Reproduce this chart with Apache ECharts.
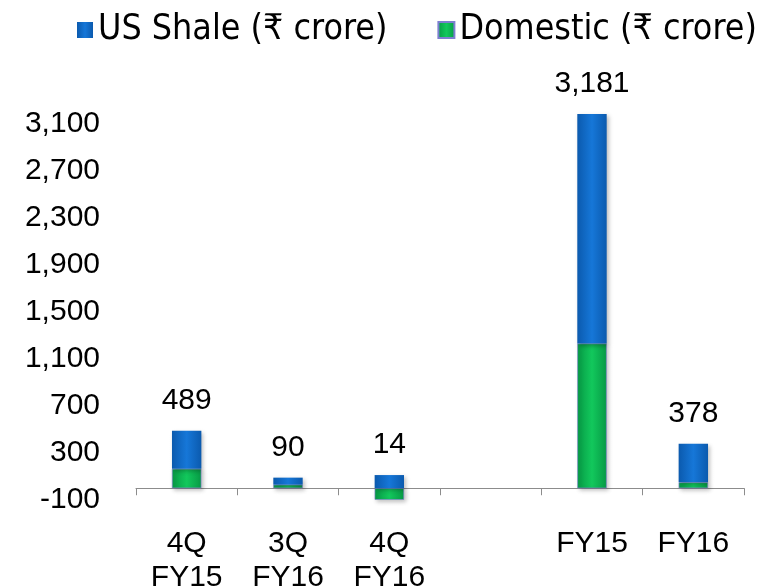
<!DOCTYPE html>
<html>
<head>
<meta charset="utf-8">
<script src="https://cdn.jsdelivr.net/npm/echarts@6/dist/echarts.min.js"></script>
<style>html,body{margin:0;padding:0;background:#fff;}#c{width:768px;height:588px;}</style>
</head>
<body>
<div id="c"></div>
<script>
var categories = ['4Q\nFY15', '3Q\nFY16', '4Q\nFY16', '', 'FY15', 'FY16'];
var domestic = [165, 30, -98, null, 1230, 50];
var usShale = [324, 60, 112, null, 1951, 328];
var totals = [489, 90, 14, null, 3181, 378];
var seriesNames = ['US Shale (₹ crore)', 'Domestic (₹ crore)'];

var chart = echarts.init(document.getElementById('c'), null, {renderer: 'canvas'});
var numFont = '"Liberation Sans", Arial, sans-serif';
function hgrad(a, b) {
  return new echarts.graphic.LinearGradient(0, 0, 1, 0, [
    {offset: 0, color: a}, {offset: 0.5, color: b}, {offset: 1, color: a}
  ]);
}
var shadow = {shadowBlur: 4, shadowColor: 'rgba(0,0,0,0.25)', shadowOffsetX: 2, shadowOffsetY: 2};
chart.setOption({
  animation: false,
  backgroundColor: '#ffffff',
  legend: {
    left: 72, top: 7,
    itemWidth: 16, itemHeight: 16, itemGap: 50,
    icon: 'rect',
    data: [seriesNames[0], seriesNames[1]],
    textStyle: {fontFamily: '"DejaVu Sans Condensed", "DejaVu Sans", sans-serif', fontSize: 35.5, color: '#000'}
  },
  grid: {left: 136, right: 24, top: 100, bottom: 88, containLabel: false, outerBoundsMode: 'none'},
  xAxis: {
    type: 'category',
    data: categories,
    axisLine: {onZero: true, lineStyle: {color: '#8c8c8c', width: 1}},
    axisTick: {show: true, length: 7, lineStyle: {color: '#8c8c8c'}},
    axisLabel: {margin: 27, fontFamily: numFont, fontSize: 30, color: '#000', lineHeight: 34, interval: 0}
  },
  yAxis: {
    type: 'value', min: -100, max: 3300, interval: 400,
    axisLine: {show: false}, axisTick: {show: false}, splitLine: {show: false},
    axisLabel: {
      margin: 36, fontFamily: numFont, fontSize: 30, color: '#000', showMaxLabel: false,
      formatter: function (v) { return v.toLocaleString('en-US'); }
    }
  },
  series: [
    {
      name: seriesNames[1], type: 'bar', stack: 'a', barWidth: '29%',
      data: domestic,
      itemStyle: Object.assign({color: hgrad('#079a45', '#12c85c'), borderColor: '#7d7fd0', borderWidth: 0.6}, shadow)
    },
    {
      name: seriesNames[0], type: 'bar', stack: 'a', barWidth: '29%',
      data: usShale,
      itemStyle: Object.assign({color: hgrad('#0b5aae', '#1677d8')}, shadow),
      label: {
        show: true, position: 'top', distance: 15,
        fontFamily: numFont, fontSize: 30, color: '#000',
        formatter: function (p) { var t = totals[p.dataIndex]; return t == null ? '' : t.toLocaleString('en-US'); }
      }
    }
  ]
});
</script>
</body>
</html>
